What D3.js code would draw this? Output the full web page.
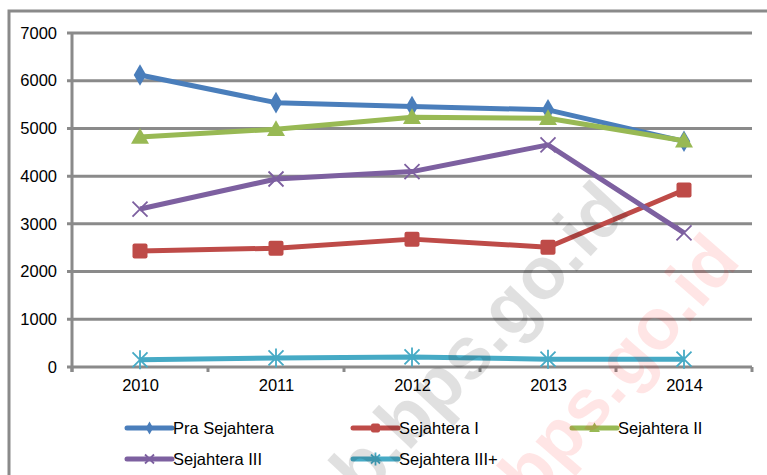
<!DOCTYPE html>
<meta charset="utf-8">
<script src="https://d3js.org/d3.v7.min.js"></script>
<style>
  body { margin: 0; background: #fff; }
  text { font-family: "Liberation Sans", Arial, sans-serif; }
</style>
<div id="chart"></div>
<script>
    // data
    var years = ["2010", "2011", "2012", "2013", "2014"];
    var praSejahtera = [6120, 5540, 5460, 5390, 4730];
    var sejahtera1 = [2430, 2490, 2680, 2510, 3710];
    var sejahtera2 = [4820, 4985, 5235, 5215, 4740];
    var sejahtera3 = [3310, 3940, 4095, 4655, 2810];
    var sejahtera3plus = [150, 190, 210, 165, 165];
    var yTicks = [0, 1000, 2000, 3000, 4000, 5000, 6000, 7000];

    var series = [
      {name: "Pra Sejahtera", values: praSejahtera, color: "#4a7ebb", marker: "diamond"},
      {name: "Sejahtera I", values: sejahtera1, color: "#be4b48", marker: "square"},
      {name: "Sejahtera II", values: sejahtera2, color: "#98b954", marker: "triangle"},
      {name: "Sejahtera III", values: sejahtera3, color: "#7d60a0", marker: "x"},
      {name: "Sejahtera III+", values: sejahtera3plus, color: "#46aac5", marker: "star"}
    ];

    var margin = {top: 33, left: 72},
        width = 680,
        height = 334;

    var svg = d3.select("#chart").append("svg")
        .attr("width", 767)
        .attr("height", 475);

    // outer chart border (runs off the right and bottom of the picture)
    svg.append("rect")
      .attr("x", 9).attr("y", 11)
      .attr("width", 820).attr("height", 520)
      .attr("fill", "none")
      .attr("stroke", "#8a8a8a")
      .attr("stroke-width", 3);

    var g = svg.append("g")
      .attr("transform", "translate(" + margin.left + "," + margin.top + ")");

    var x = d3.scalePoint().domain(years).range([0, width]).padding(0.5);
    var y = d3.scaleLinear().domain([0, 7000]).range([height, 0]);

    // gridlines
    g.selectAll(".grid")
      .data(yTicks)
      .enter().append("line")
        .attr("x1", -5).attr("x2", width)
        .attr("y1", function(d) { return y(d); })
        .attr("y2", function(d) { return y(d); })
        .attr("stroke", "#8a8a8a")
        .attr("stroke-width", 3);

    // Y axis labels
    var yAxis = g.append("g")
      .call(d3.axisLeft(y).tickValues(yTicks).tickFormat(d3.format("d")).tickSize(0).tickPadding(15));
    yAxis.select(".domain").remove();
    yAxis.selectAll("text").attr("font-size", 16.5).attr("fill", "#000")
      .style("font-family", "'Liberation Sans', Arial, sans-serif");

    // Y axis line
    g.append("line")
      .attr("x1", 0).attr("x2", 0).attr("y1", 0).attr("y2", height + 5)
      .attr("stroke", "#8a8a8a").attr("stroke-width", 3);

    // X axis with ticks between categories
    var step = x.step();
    g.selectAll(".xtick")
      .data(d3.range(years.length + 1))
      .enter().append("line")
        .attr("x1", function(i) { return i * step; })
        .attr("x2", function(i) { return i * step; })
        .attr("y1", height).attr("y2", height + 5)
        .attr("stroke", "#8a8a8a").attr("stroke-width", 3);

    var xAxis = g.append("g")
      .attr("transform", "translate(0," + height + ")")
      .call(d3.axisBottom(x).tickSize(0).tickPadding(12));
    xAxis.select(".domain").remove();
    xAxis.selectAll("text").attr("font-size", 16.5).attr("fill", "#000")
      .style("font-family", "'Liberation Sans', Arial, sans-serif");

    // marker drawing
    function drawMarker(sel, type, color, s) {
      if (type == "diamond") {
        sel.append("path").attr("d", d3.symbol().type(d3.symbolDiamond).size(s * s * 0.6)())
          .attr("fill", color);
      } else if (type == "square") {
        sel.append("rect").attr("x", -s / 2).attr("y", -s / 2)
          .attr("width", s).attr("height", s).attr("rx", 2)
          .attr("fill", color);
      } else if (type == "triangle") {
        sel.append("path").attr("d", "M0," + (-s * 0.6) + "L" + (s * 0.6) + "," + (s * 0.45) + "L" + (-s * 0.6) + "," + (s * 0.45) + "Z")
          .attr("fill", color);
      } else if (type == "x") {
        var h = s / 2;
        sel.append("path").attr("d", "M" + (-h) + "," + (-h) + "L" + h + "," + h + "M" + (-h) + "," + h + "L" + h + "," + (-h))
          .attr("stroke", color).attr("stroke-width", 1.8).attr("fill", "none");
      } else if (type == "star") {
        var h2 = s / 2;
        sel.append("path").attr("d", "M" + (-h2) + "," + (-h2) + "L" + h2 + "," + h2 + "M" + (-h2) + "," + h2 + "L" + h2 + "," + (-h2) + "M0," + (-h2 - 2) + "L0," + (h2 + 2))
          .attr("stroke", color).attr("stroke-width", 1.8).attr("fill", "none");
      }
    }

    var line = d3.line()
      .x(function(d, i) { return x(years[i]); })
      .y(function(d) { return y(d); });

    series.forEach(function(s) {
      g.append("path")
        .datum(s.values)
        .attr("d", line)
        .attr("fill", "none")
        .attr("stroke", s.color)
        .attr("stroke-width", 5)
        .attr("stroke-linejoin", "round");
      s.values.forEach(function(v, i) {
        var m = g.append("g").attr("transform", "translate(" + x(years[i]) + "," + y(v) + ")");
        drawMarker(m, s.marker, s.color, 15);
      });
    });

    // legend
    var legendPos = [[127, 428], [353, 428], [572, 428], [127, 459], [353, 459]];
    series.forEach(function(s, i) {
      var lg = svg.append("g").attr("transform", "translate(" + legendPos[i][0] + "," + legendPos[i][1] + ")");
      lg.append("line").attr("x1", 0).attr("x2", 45).attr("y1", 0).attr("y2", 0)
        .attr("stroke", s.color).attr("stroke-width", 5).attr("stroke-linecap", "round");
      var m = lg.append("g").attr("transform", "translate(22.5,0)");
      drawMarker(m, s.marker, s.color, 9);
      lg.append("text").attr("x", 46).attr("y", 0).attr("dy", "0.35em")
        .attr("font-size", 16.5).attr("fill", "#000").text(s.name);
    });

    // watermark
    svg.append("text")
      .attr("transform", "translate(632,212) rotate(-47)")
      .attr("text-anchor", "end")
      .attr("font-size", 74).attr("font-weight", "bold")
      .attr("fill", "#000").attr("fill-opacity", 0.12)
      .text("kab.bps.go.id");
    svg.append("text")
      .attr("transform", "translate(742,262) rotate(-49)")
      .attr("text-anchor", "end")
      .attr("font-size", 72).attr("font-weight", "bold")
      .attr("fill", "#ff0000").attr("fill-opacity", 0.1)
      .text("bps.go.id");
</script>
